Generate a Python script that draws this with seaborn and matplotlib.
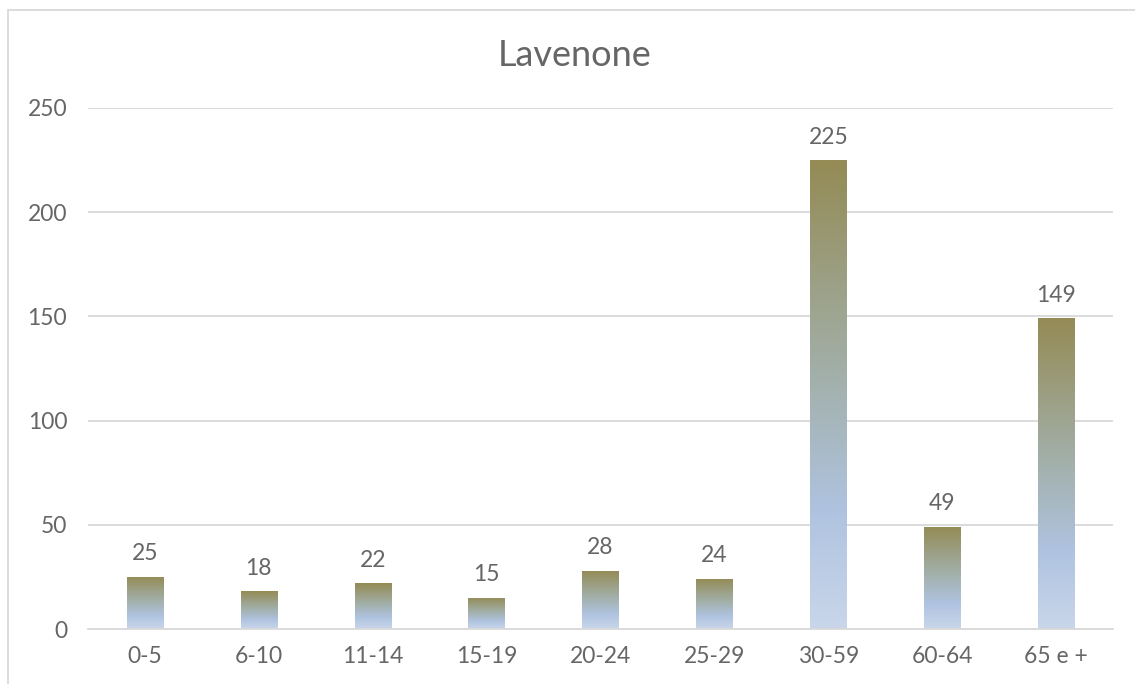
import numpy as np
import pandas as pd
import matplotlib
matplotlib.use("Agg")
import matplotlib.pyplot as plt
import seaborn as sns
from matplotlib.colors import LinearSegmentedColormap
from matplotlib.patches import Rectangle

# data
age_groups = ["0-5", "6-10", "11-14", "15-19", "20-24", "25-29", "30-59", "60-64", "65 e +"]
residents = [25, 18, 22, 15, 28, 24, 225, 49, 149]
title = "Lavenone"

df = pd.DataFrame({"eta": age_groups, "n": residents})

sns.set_theme(style="white")
plt.rcParams["font.family"] = ["Lato", "DejaVu Sans"]
text_col = "#666666"
grid_col = "#D9D9D9"

fig = plt.figure(figsize=(11.35, 6.84), dpi=100)
ax = fig.add_axes([88 / 1135, 55 / 684, 1025 / 1135, 521 / 684])

sns.barplot(data=df, x="eta", y="n", ax=ax, width=0.32, color="#AFC3E0",
            edgecolor="none", saturation=1)

# gradient fill: olive at top -> blue -> light blue at bottom
grad = LinearSegmentedColormap.from_list(
    "bar", [(0.0, "#C9D6EA"), (0.25, "#AFC3E0"), (0.55, "#A2AFA8"), (1.0, "#948B55")])
g = np.linspace(0, 1, 256).reshape(-1, 1)
for p in ax.patches:
    x0, y0 = p.get_x(), p.get_y()
    w, h = p.get_width(), p.get_height()
    im = ax.imshow(g, cmap=grad, origin="lower", aspect="auto",
                   extent=[x0, x0 + w, y0, y0 + h], zorder=2)
    im.set_clip_path(p)
    p.set_facecolor("none")
    ax.text(x0 + w / 2, h + 6, f"{int(h)}", ha="center", va="bottom",
            fontsize=16.5, color=text_col)

ax.set_xlim(-0.5, len(age_groups) - 0.5)
ax.set_ylim(0, 250)
ax.set_yticks(range(0, 251, 50))
ax.yaxis.grid(True, color=grid_col, linewidth=1.3)
ax.set_axisbelow(True)
for s in ["top", "right", "left"]:
    ax.spines[s].set_visible(False)
ax.spines["bottom"].set_color(grid_col)
ax.spines["bottom"].set_linewidth(1.3)
ax.tick_params(axis="both", length=0, labelsize=16.5, colors=text_col)
ax.tick_params(axis="x", pad=12)
ax.tick_params(axis="y", pad=15)
ax.set_xlabel("")
ax.set_ylabel("")

fig.text(575 / 1135, 1 - 55 / 684, title, ha="center", va="center", fontsize=26,
         color=text_col)

# chart frame (cut off at the right and bottom like the screenshot)
fig.patches.append(Rectangle((8 / 1135, -0.1), 1.2, 1.1 - 10 / 684,
                             transform=fig.transFigure, fill=False,
                             edgecolor=grid_col, linewidth=1.3))

fig.savefig("out.png", dpi=100, facecolor="white")
